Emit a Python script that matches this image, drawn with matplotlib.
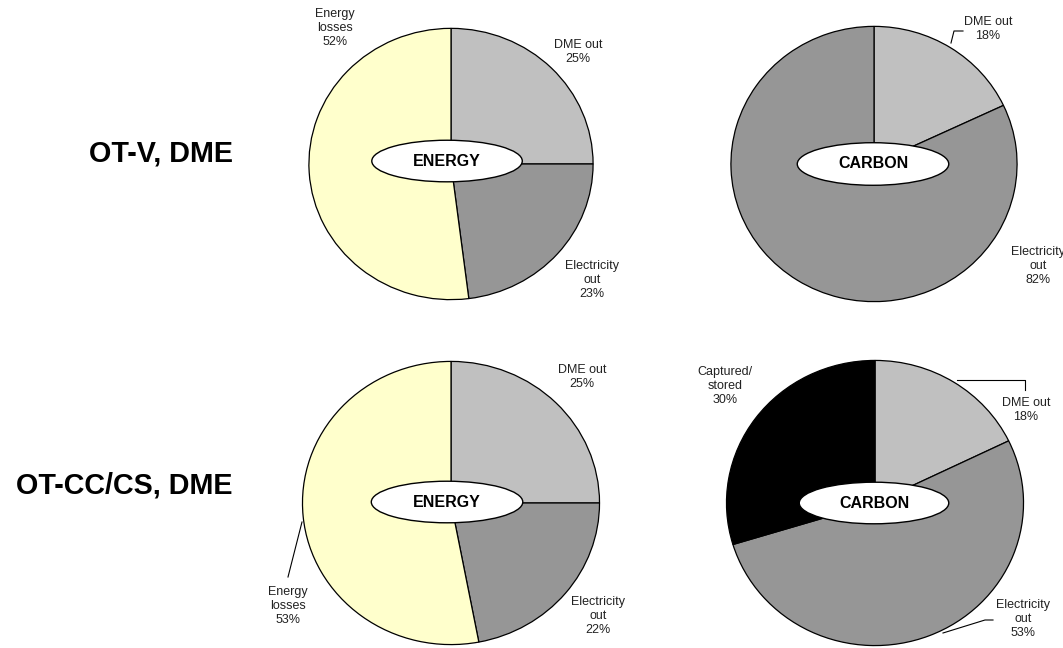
import matplotlib
matplotlib.use('Agg')
import matplotlib.pyplot as plt
from matplotlib.patches import Ellipse
from matplotlib.lines import Line2D

plt.rcParams['font.family'] = ['Liberation Sans', 'DejaVu Sans']

W, H = 1063, 648

# slice names (in drawing order, clockwise from 12 o'clock)
energy_names = ['DME out', 'Electricity\nout', 'Energy\nlosses']
carbon_names_v = ['DME out', 'Electricity\nout']
carbon_names_cc = ['DME out', 'Electricity\nout', 'Captured/\nstored']

# shares in percent
energy_otv = [25, 23, 52]
carbon_otv = [18, 82]
energy_otcc = [25, 22, 53]
carbon_otcc = [18, 53, 30]

row_labels = ['OT-V, DME', 'OT-CC/CS, DME']

c_light = '#C0C0C0'
c_mid = '#969696'
c_yellow = '#FFFFCC'
c_black = '#000000'

fig = plt.figure(figsize=(W / 100, H / 100), dpi=100)


def fx(x):
    return x / W


def fy(y):
    return 1 - y / H


def draw_pie(cx, cy, rx, ry, values, colors, tag, tag_xy, tag_wh):
    ax = fig.add_axes([fx(cx - rx), fy(cy + ry), 2 * rx / W, 2 * ry / H])
    ax.pie(values, colors=colors, startangle=90, counterclock=False,
           radius=1, wedgeprops=dict(edgecolor='black', linewidth=0.9))
    ax.set_aspect('auto')
    ax.set_xlim(-1.01, 1.01)
    ax.set_ylim(-1.01, 1.01)
    ax.axis('off')
    ex = (tag_xy[0] - cx) / rx
    ey = -(tag_xy[1] - cy) / ry
    ax.add_patch(Ellipse((ex, ey), tag_wh[0] / rx, tag_wh[1] / ry,
                         facecolor='white', edgecolor='black', lw=1.0, zorder=5))
    ax.text(ex, ey, tag, ha='center', va='center', fontsize=11.5,
            fontweight='bold', zorder=6)
    return ax


def slice_label(x, y, name, value):
    fig.text(fx(x), fy(y), f'{name}\n{value}%', ha='center', va='center',
             fontsize=9, color='#222222', linespacing=1.2)


def leader(pts):
    xs = [fx(p[0]) for p in pts]
    ys = [fy(p[1]) for p in pts]
    fig.add_artist(Line2D(xs, ys, transform=fig.transFigure,
                          color='black', lw=0.8))


# top row: OT-V
draw_pie(451, 164, 143.5, 137, energy_otv, [c_light, c_mid, c_yellow],
         'ENERGY', (447, 161), (152, 42))
draw_pie(874, 164, 144.5, 139, carbon_otv, [c_light, c_mid],
         'CARBON', (873, 164), (153, 43))

slice_label(578, 52, energy_names[0], energy_otv[0])
slice_label(592, 280, energy_names[1], energy_otv[1])
slice_label(335, 28, energy_names[2], energy_otv[2])
slice_label(988, 29, carbon_names_v[0], carbon_otv[0])
slice_label(1038, 266, carbon_names_v[1], carbon_otv[1])
leader([(951, 43), (954, 31), (963, 31)])

# bottom row: OT-CC/CS
draw_pie(451, 503, 150, 143, energy_otcc, [c_light, c_mid, c_yellow],
         'ENERGY', (447, 502), (153, 42))
draw_pie(875, 503, 150, 144, carbon_otcc, [c_light, c_mid, c_black],
         'CARBON', (874, 503), (151, 42))

slice_label(582, 377, energy_names[0], energy_otcc[0])
slice_label(598, 616, energy_names[1], energy_otcc[1])
slice_label(288, 606, energy_names[2], energy_otcc[2])
slice_label(1026, 410, carbon_names_cc[0], carbon_otcc[0])
slice_label(1023, 619, carbon_names_cc[1], carbon_otcc[1])
slice_label(725, 386, carbon_names_cc[2], carbon_otcc[2])
leader([(302, 522), (288, 577)])
leader([(957, 380), (1025, 380), (1025, 390)])
leader([(943, 633), (985, 620), (993, 620)])

# row titles
fig.text(fx(233), fy(153), row_labels[0], ha='right', va='center',
         fontsize=20.7, fontweight='bold')
fig.text(fx(233), fy(485), row_labels[1], ha='right', va='center',
         fontsize=20.7, fontweight='bold')

fig.savefig('out.png', dpi=100, facecolor='white')
